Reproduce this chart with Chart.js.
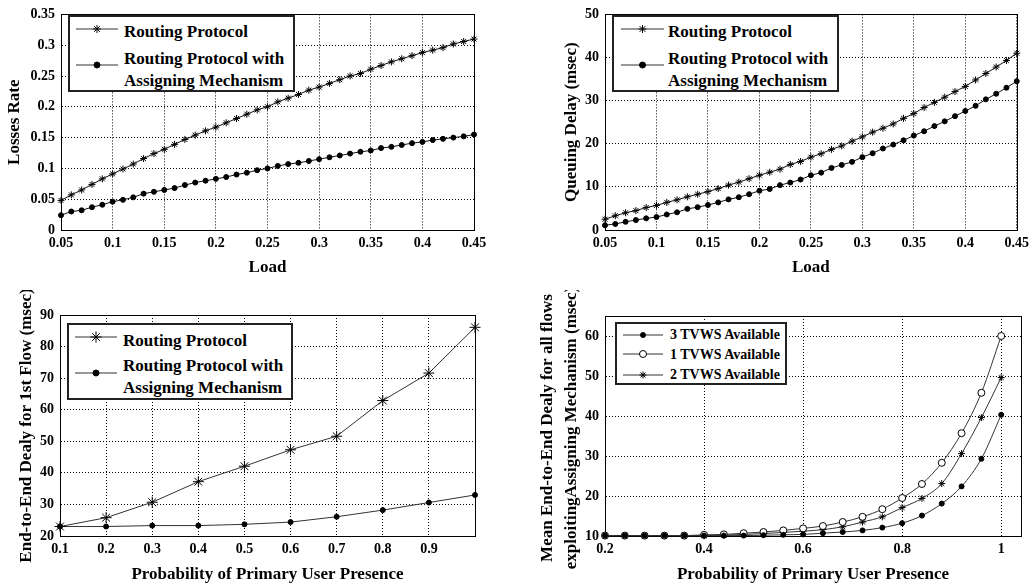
<!DOCTYPE html>
<html>
<head>
<meta charset="utf-8">
<script src="https://cdn.jsdelivr.net/npm/chart.js@4/dist/chart.umd.min.js"></script>
<style>
body { margin: 0; background: #fff; width: 1034px; height: 587px; position: relative; overflow: hidden; font-family: "Liberation Serif", serif; }
canvas { position: absolute; }
.leg { position: absolute; border: 2px solid #222; background: #fff; box-sizing: border-box; }
.leg svg { position: absolute; left: 0; top: 0; }
.leg span { position: absolute; font-weight: bold; white-space: nowrap; line-height: 1; color: #000; }
</style>
</head>
<body>
<canvas id="c1" width="517" height="290" style="left:0;top:0"></canvas>
<canvas id="c2" width="517" height="290" style="left:517px;top:0"></canvas>
<canvas id="c3" width="517" height="297" style="left:0;top:290px"></canvas>
<canvas id="c4" width="517" height="297" style="left:517px;top:290px"></canvas>
<script>
// load values (top two panels)
let loadX = [0.05,0.06,0.07,0.08,0.09,0.10,0.11,0.12,0.13,0.14,0.15,0.16,0.17,0.18,0.19,0.20,0.21,0.22,0.23,0.24,0.25,
             0.26,0.27,0.28,0.29,0.30,0.31,0.32,0.33,0.34,0.35,0.36,0.37,0.38,0.39,0.40,0.41,0.42,0.43,0.44,0.45];
let lossRouting = [0.048,0.057,0.065,0.074,0.083,0.091,0.099,0.107,0.116,0.124,0.131,0.139,0.147,0.154,0.161,0.167,0.174,
                   0.181,0.188,0.195,0.200,0.208,0.214,0.220,0.227,0.232,0.238,0.244,0.250,0.254,0.261,0.267,0.273,0.278,
                   0.283,0.288,0.292,0.296,0.302,0.306,0.310];
let lossAssign = [0.024,0.030,0.032,0.037,0.041,0.046,0.049,0.053,0.059,0.062,0.065,0.068,0.073,0.077,0.080,0.083,0.086,
                  0.090,0.093,0.097,0.100,0.104,0.107,0.109,0.112,0.115,0.118,0.121,0.124,0.127,0.129,0.133,0.135,0.138,
                  0.141,0.143,0.146,0.148,0.150,0.152,0.155];
let queueRouting = [2.5,3.3,4.0,4.5,5.2,5.7,6.4,7.0,7.7,8.3,8.9,9.6,10.4,11.1,11.9,12.7,13.4,14.1,15.2,15.9,16.9,
                    17.7,18.7,19.5,20.6,21.6,22.7,23.6,24.6,25.9,27.0,28.4,29.6,30.8,32.1,33.3,34.8,36.3,37.8,39.3,41.0];
let queueAssign = [1.1,1.4,1.9,2.3,2.7,3.0,3.6,4.1,4.9,5.3,5.8,6.4,7.1,7.6,8.3,9.1,9.5,10.4,11.0,11.7,12.7,
                   13.3,14.4,15.1,15.8,16.9,17.8,18.9,19.8,20.8,21.9,22.9,24.1,25.2,26.4,27.6,28.8,30.3,31.6,33.0,34.5];

// probability of primary user presence
let probX = [0.1,0.2,0.3,0.4,0.5,0.6,0.7,0.8,0.9,1.0];
let e2eRouting = [23.0,25.8,30.7,37.2,42.1,47.3,51.6,62.9,71.6,86.1];
let e2eAssign = [23.0,23.0,23.3,23.3,23.7,24.4,26.1,28.2,30.6,33.0];

let probX2 = [0.2,0.24,0.28,0.32,0.36,0.4,0.44,0.48,0.52,0.56,0.6,0.64,0.68,0.72,0.76,0.8,0.84,0.88,0.92,0.96,1.0];
let tvws3 = [10.1,10.1,10.1,10.1,10.1,10.1,10.1,10.1,10.2,10.3,10.4,10.7,11.0,11.4,12.1,13.2,15.1,18.1,22.4,29.3,40.3];
let tvws1 = [10.1,10.1,10.1,10.1,10.1,10.3,10.4,10.7,11.0,11.4,11.9,12.5,13.5,14.8,16.7,19.5,23.0,28.3,35.7,45.8,60.0];
let tvws2 = [10.1,10.1,10.1,10.1,10.1,10.1,10.2,10.4,10.6,10.9,11.2,11.6,12.3,13.5,14.8,17.1,19.4,23.1,30.6,39.6,49.6];

const FONT = 'Liberation Serif';
const num = d => v => String(+v.toFixed(d));

function pts(xs, ys) { return xs.map((x, i) => ({x: x, y: ys[i]})); }

function series(xs, ys, marker, r, lineColor, smooth) {
  return {
    data: pts(xs, ys),
    borderColor: lineColor,
    borderWidth: 1,
    pointStyle: marker === 'star' ? 'star' : 'circle',
    pointRadius: r,
    pointBorderWidth: 1,
    pointBorderColor: '#000',
    pointBackgroundColor: marker === 'open' ? '#fff' : '#000',
    cubicInterpolationMode: smooth ? 'monotone' : 'default',
    tension: 0,
    clip: false
  };
}

const frame = {
  id: 'frame',
  beforeDatasetsDraw(chart) {
    const {ctx, chartArea: a} = chart;
    ctx.save();
    ctx.strokeStyle = '#000';
    ctx.lineWidth = 1;
    ctx.strokeRect(Math.round(a.left) + 0.5, Math.round(a.top) + 0.5, Math.round(a.right - a.left), Math.round(a.bottom - a.top));
    ctx.restore();
  }
};

function yTitle(lines, xs, dy) {
  return {
    id: 'ytitle',
    afterDraw(chart) {
      const {ctx, chartArea: a} = chart;
      const cy = (a.top + a.bottom) / 2 + (dy || 0);
      ctx.save();
      ctx.font = 'bold 17px "' + FONT + '"';
      ctx.fillStyle = '#000';
      ctx.textAlign = 'center';
      ctx.textBaseline = 'middle';
      lines.forEach((t, i) => {
        ctx.save();
        ctx.translate(xs[i], cy);
        ctx.rotate(-Math.PI / 2);
        ctx.fillText(t, 0, 0);
        ctx.restore();
      });
      ctx.restore();
    }
  };
}

function axis(c) {
  return {
    type: 'linear',
    min: c.min, max: c.max,
    afterFit: c.fit,
    ticks: {
      stepSize: c.step, includeBounds: false, autoSkip: false, maxRotation: 0,
      padding: c.pad, color: '#000',
      font: {family: FONT, size: 14, weight: 'bold'},
      callback: c.fmt
    },
    grid: {color: '#000', lineWidth: 1, drawTicks: false},
    border: {display: true, color: '#000', width: 1, dash: [1, 2]},
    title: c.title ? {
      display: true, text: c.title, color: '#000',
      font: {family: FONT, size: 17, weight: 'bold'},
      padding: {top: 0, bottom: c.titlePad}
    } : {display: false}
  };
}

function makeChart(id, o) {
  return new Chart(document.getElementById(id), {
    type: 'line',
    data: {datasets: o.datasets},
    options: {
      responsive: false, animation: false, devicePixelRatio: 1,
      layout: {padding: o.padding},
      plugins: {legend: {display: false}, tooltip: {enabled: false}},
      scales: {x: o.x, y: o.y}
    },
    plugins: [frame, o.yt]
  });
}

// top left: losses rate
makeChart('c1', {
  padding: {left: 0, top: 11, right: 43, bottom: 0},
  datasets: [series(loadX, lossRouting, 'star', 3.5, '#111'), series(loadX, lossAssign, 'dot', 2.5, '#111')],
  x: axis({min: 0.05, max: 0.45, step: 0.05, fmt: num(2), pad: 5, title: 'Load', titlePad: 12,
           fit: s => { s.height = 60; }}),
  y: axis({min: 0, max: 0.35, step: 0.05, fmt: num(2), pad: 6, fit: s => { s.width = 61; }}),
  yt: yTitle(['Losses Rate'], [15])
});

// top right: queuing delay
makeChart('c2', {
  padding: {left: 0, top: 10, right: 13, bottom: 0},
  datasets: [series(loadX, queueRouting, 'star', 3.5, '#111'), series(loadX, queueAssign, 'dot', 2.5, '#111')],
  x: axis({min: 0.05, max: 0.45, step: 0.05, fmt: num(2), pad: 5, title: 'Load', titlePad: 12,
           fit: s => { s.height = 60; }}),
  y: axis({min: 0, max: 50, step: 10, fmt: num(0), pad: 6, fit: s => { s.width = 88; }}),
  yt: yTitle(['Queuing Delay (msec)'], [55])
});

// bottom left: end-to-end delay of the 1st flow
makeChart('c3', {
  padding: {left: 0, top: 25, right: 42, bottom: 0},
  datasets: [series(probX, e2eRouting, 'star', 5.5, '#333'), series(probX, e2eAssign, 'dot', 2.5, '#333')],
  x: axis({min: 0.1, max: 1.0, step: 0.1, fmt: v => (v > 0.95 ? '' : String(+v.toFixed(1))), pad: 5,
           title: 'Probability of Primary User Presence', titlePad: 2, fit: s => { s.height = 51; }}),
  y: axis({min: 20, max: 90, step: 10, fmt: num(0), pad: 6, fit: s => { s.width = 60; }}),
  yt: yTitle(['End-to-End Dealy for 1st Flow (msec)'], [27])
});

// bottom right: mean end-to-end delay for all flows
makeChart('c4', {
  padding: {left: 0, top: 26, right: 13, bottom: 0},
  datasets: [series(probX2, tvws3, 'dot', 2.5, '#333', true),
             series(probX2, tvws1, 'open', 3.5, '#333', true),
             series(probX2, tvws2, 'star', 3.5, '#333', true)],
  x: axis({min: 0.2, max: 1.04, step: 0.2, fmt: num(1), pad: 5,
           title: 'Probability of Primary User Presence', titlePad: 2, fit: s => { s.height = 51; }}),
  y: axis({min: 10, max: 65, step: 10, fmt: num(0), pad: 6, fit: s => { s.width = 88; }}),
  yt: yTitle(['Mean End-to-End Dealy for all flows', 'exploitingAssigning Mechanism (msec)'], [31, 55], 2)
});

// legends, boxed inside the plot areas
function marker(m, cx, cy, r) {
  if (m === 'star') {
    const d = r * Math.SQRT1_2;
    return `<path d="M${cx - r} ${cy}H${cx + r}M${cx} ${cy - r}V${cy + r}M${cx - d} ${cy - d}L${cx + d} ${cy + d}M${cx - d} ${cy + d}L${cx + d} ${cy - d}" stroke="#000" stroke-width="1"/>`;
  }
  return `<circle cx="${cx}" cy="${cy}" r="${r}" fill="${m === 'open' ? '#fff' : '#000'}" stroke="#000" stroke-width="1"/>`;
}

function addLegend(box, fs, samples, texts) {
  const d = document.createElement('div');
  d.className = 'leg';
  d.style.left = box[0] + 'px';
  d.style.top = box[1] + 'px';
  d.style.width = box[2] + 'px';
  d.style.height = box[3] + 'px';
  const ox = box[0] + 2, oy = box[1] + 2;
  let svg = `<svg width="${box[2]}" height="${box[3]}">`;
  samples.forEach(s => {
    const y = s.y - oy, x1 = s.x1 - ox, x2 = s.x2 - ox;
    svg += `<line x1="${x1}" y1="${y}" x2="${x2}" y2="${y}" stroke="#333" stroke-width="1"/>`;
    svg += marker(s.m, (x1 + x2) / 2, y, s.r);
  });
  svg += '</svg>';
  let html = svg;
  texts.forEach(t => {
    html += `<span style="left:${t.x - ox}px;top:${t.y - oy - fs / 2}px;font-size:${fs}px">${t.t}</span>`;
  });
  d.innerHTML = html;
  document.body.appendChild(d);
}

addLegend([68, 15, 227, 77], 17,
  [{x1: 76, x2: 118, y: 29, m: 'star', r: 4}, {x1: 76, x2: 118, y: 65, m: 'dot', r: 3}],
  [{x: 124, y: 31, t: 'Routing Protocol'}, {x: 124, y: 58, t: 'Routing Protocol with'}, {x: 124, y: 80, t: 'Assigning Mechanism'}]);

addLegend([612, 15, 227, 77], 17,
  [{x1: 621, x2: 664, y: 29, m: 'star', r: 4}, {x1: 621, x2: 664, y: 65, m: 'dot', r: 3}],
  [{x: 668, y: 31, t: 'Routing Protocol'}, {x: 668, y: 58, t: 'Routing Protocol with'}, {x: 668, y: 80, t: 'Assigning Mechanism'}]);

addLegend([67, 323, 226, 77], 17,
  [{x1: 75, x2: 117, y: 337, m: 'star', r: 5.5}, {x1: 75, x2: 117, y: 373, m: 'dot', r: 3}],
  [{x: 123, y: 340, t: 'Routing Protocol'}, {x: 123, y: 365, t: 'Routing Protocol with'}, {x: 123, y: 387, t: 'Assigning Mechanism'}]);

addLegend([615, 322, 172, 63], 14,
  [{x1: 623, x2: 663, y: 335, m: 'dot', r: 2.5}, {x1: 623, x2: 663, y: 354, m: 'open', r: 3.5}, {x1: 623, x2: 663, y: 375, m: 'star', r: 3.5}],
  [{x: 670, y: 335, t: '3 TVWS Available'}, {x: 670, y: 355, t: '1 TVWS Available'}, {x: 670, y: 375, t: '2 TVWS Available'}]);
</script>
</body>
</html>
